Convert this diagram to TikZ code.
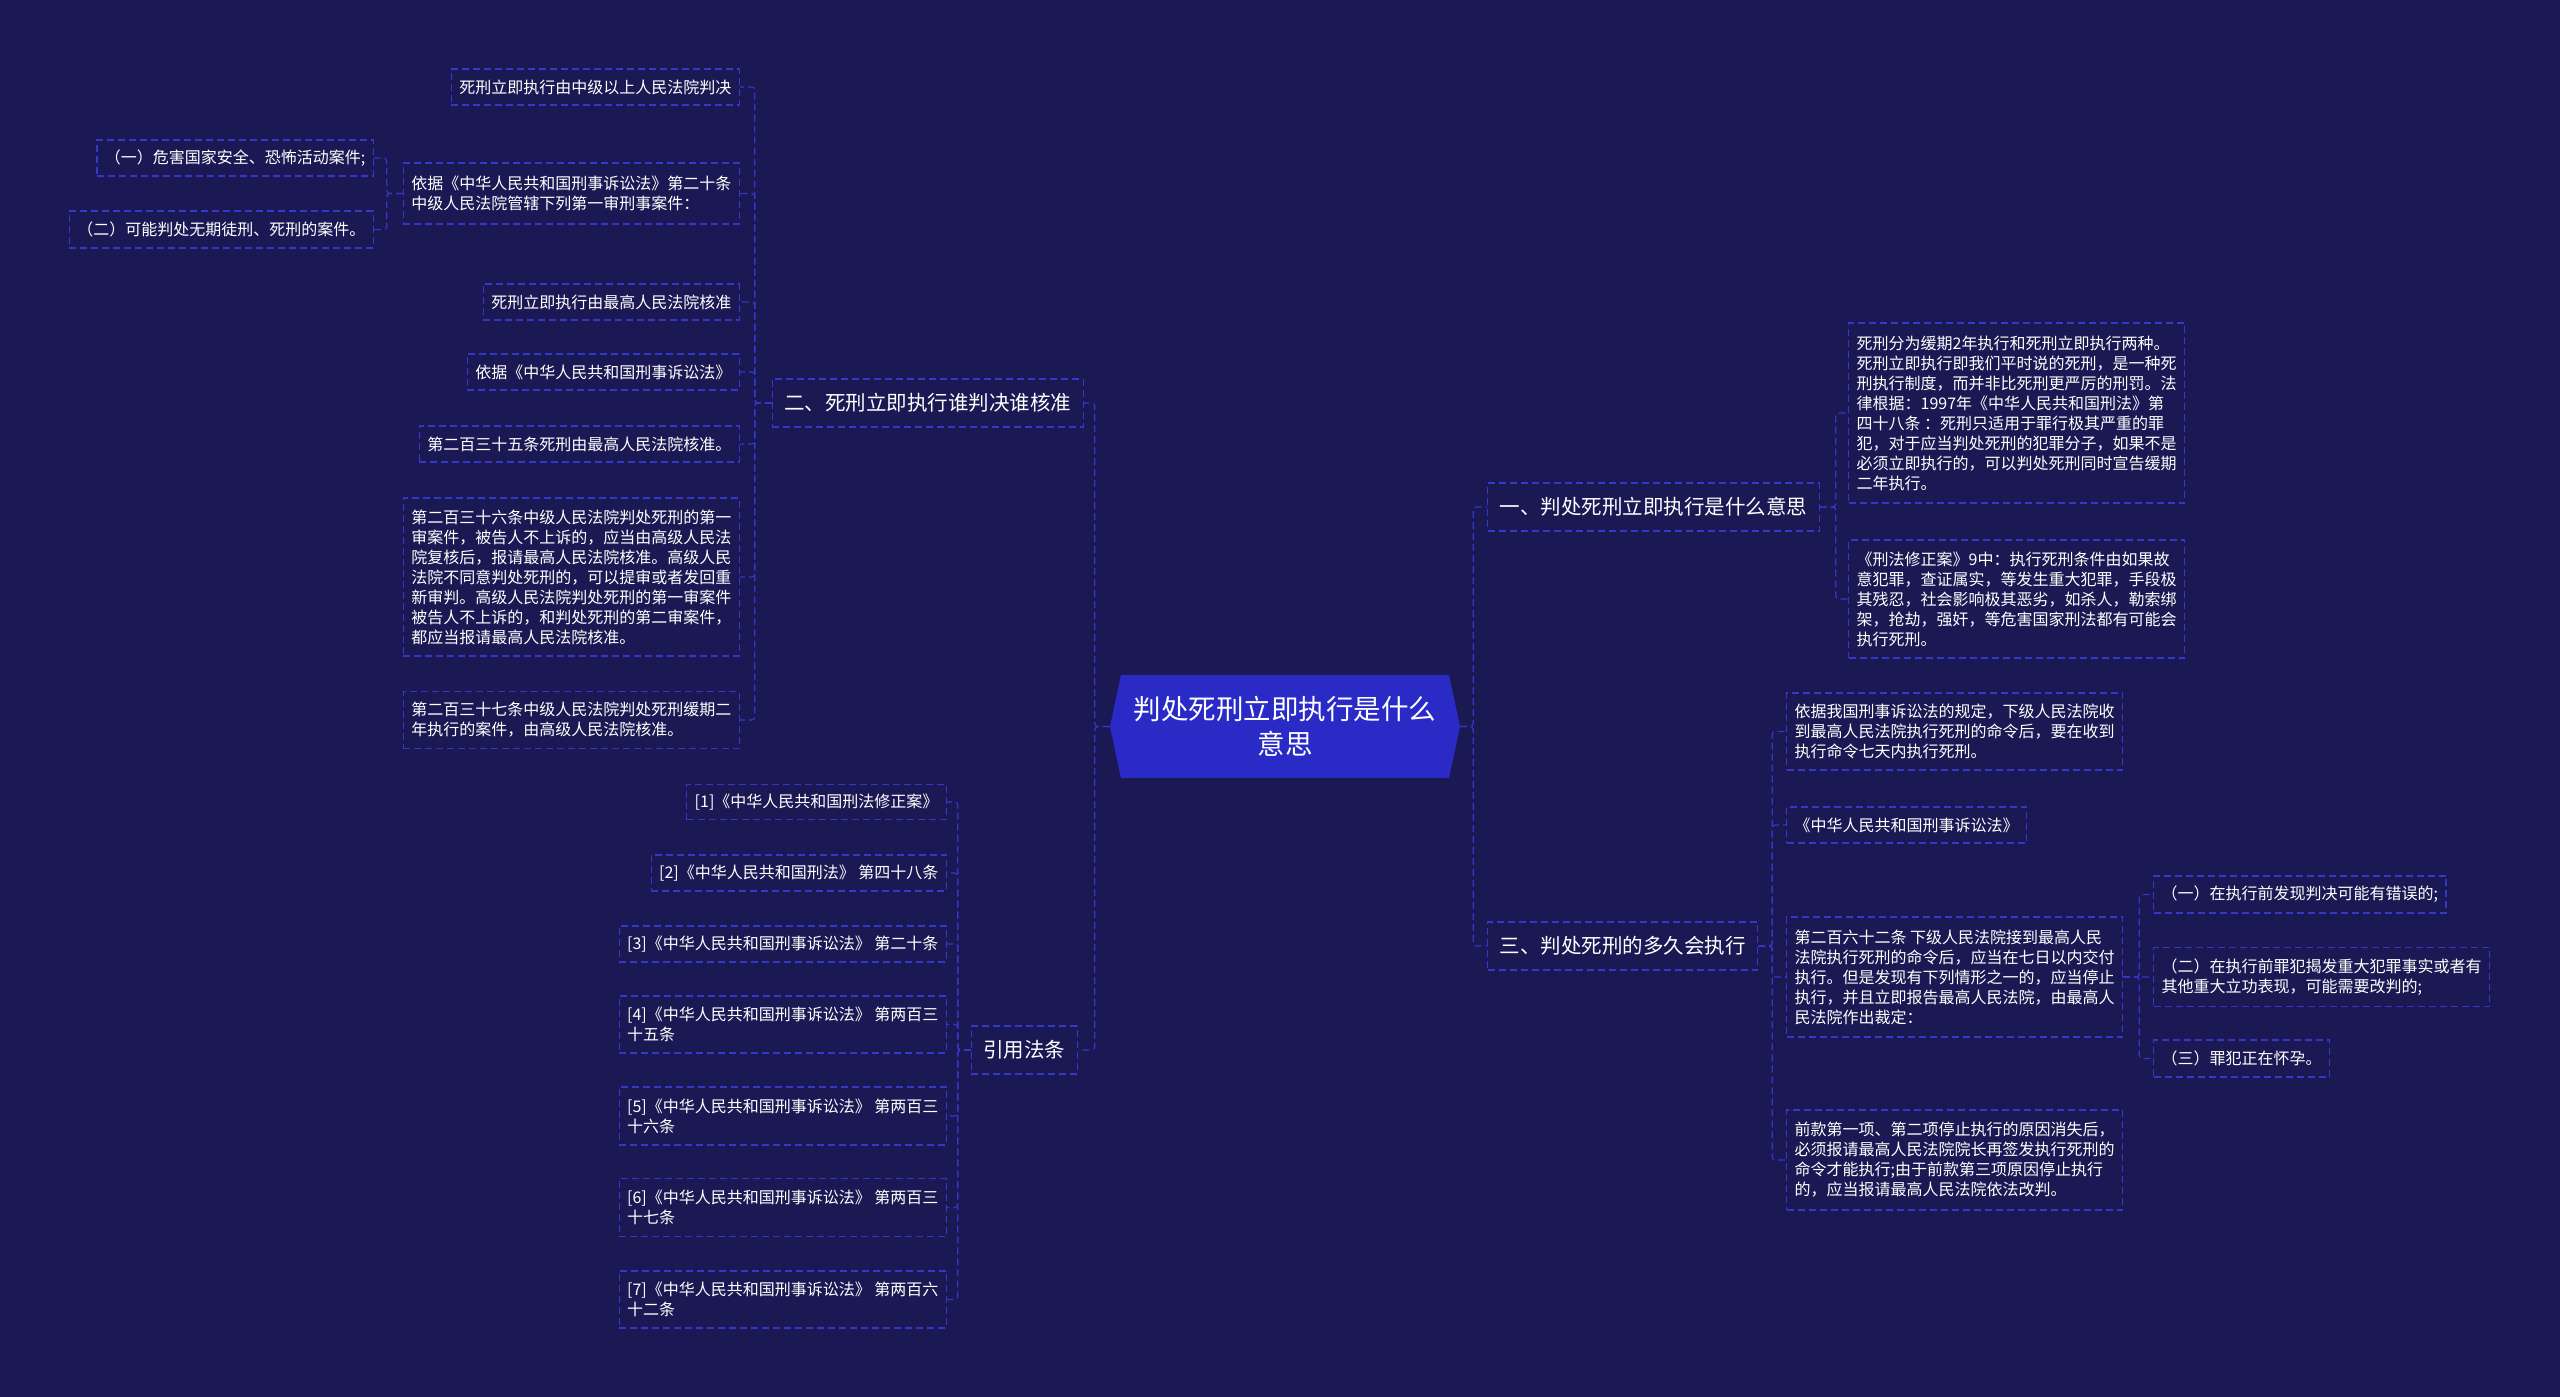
\documentclass[tikz,border=0pt]{standalone}
\usepackage{fontspec}
\setmainfont{Noto Sans CJK SC}
\definecolor{bgc}{HTML}{1A1953}
\definecolor{linec}{HTML}{3636C8}
\definecolor{rootc}{HTML}{2A2BC6}
\tikzset{
  box/.style={draw=linec, dash pattern=on 7pt off 4pt, line width=1.2pt, text=white,
    inner xsep=8pt, inner ysep=0pt, align=left, font=\fontsize{16}{20}\selectfont},
  midbox/.style={box, inner xsep=12pt, minimum height=48pt, font=\fontsize{20.5}{24}\selectfont},
  conn/.style={draw=linec, dash pattern=on 7pt off 4pt, line width=1.2pt, rounded corners=3pt}
}
\begin{document}
\begin{tikzpicture}[x=1pt,y=-1pt]
\useasboundingbox (0,0) rectangle (2560,1397);
\fill[bgc] (0,0) rectangle (2560,1397);

% root hexagon
\fill[rootc] (1110,726.5) -- (1121,675) -- (1449,675) -- (1460,726.5) -- (1449,778) -- (1121,778) -- cycle;
\node[text=white, align=center, inner sep=0pt, minimum width=350pt, minimum height=103pt,
  font=\fontsize{27.5}{35}\selectfont] (root) at (1285,726.5) {判处死刑立即执行是什么\\意思};

% ---------- right side ----------
\node[midbox, anchor=west] (b1) at (1487,507) {一、判处死刑立即执行是什么意思};
\node[box, anchor=west, minimum height=180pt] (b1a) at (1848,413) {死刑分为缓期2年执行和死刑立即执行两种。\\死刑立即执行即我们平时说的死刑，是一种死\\刑执行制度，而并非比死刑更严厉的刑罚。法\\律根据：1997年《中华人民共和国刑法》第\\四十八条 ：死刑只适用于罪行极其严重的罪\\犯，对于应当判处死刑的犯罪分子，如果不是\\必须立即执行的，可以判处死刑同时宣告缓期\\二年执行。};
\node[box, anchor=west, minimum height=118pt] (b1b) at (1848,599) {《刑法修正案》9中：执行死刑条件由如果故\\意犯罪，查证属实，等发生重大犯罪，手段极\\其残忍，社会影响极其恶劣，如杀人，勒索绑\\架，抢劫，强奸，等危害国家刑法都有可能会\\执行死刑。};

\node[midbox, anchor=west] (b3) at (1487,946) {三、判处死刑的多久会执行};
\node[box, anchor=west, minimum height=77pt] (b3a) at (1786,731.5) {依据我国刑事诉讼法的规定，下级人民法院收\\到最高人民法院执行死刑的命令后，要在收到\\执行命令七天内执行死刑。};
\node[box, anchor=west, minimum height=36pt] (b3b) at (1786,825) {《中华人民共和国刑事诉讼法》};
\node[box, anchor=west, minimum height=120pt] (b3c) at (1786,977) {第二百六十二条 下级人民法院接到最高人民\\法院执行死刑的命令后，应当在七日以内交付\\执行。但是发现有下列情形之一的，应当停止\\执行，并且立即报告最高人民法院，由最高人\\民法院作出裁定：};
\node[box, anchor=west, minimum height=100pt] (b3d) at (1786,1160) {前款第一项、第二项停止执行的原因消失后，\\必须报请最高人民法院院长再签发执行死刑的\\命令才能执行;由于前款第三项原因停止执行\\的，应当报请最高人民法院依法改判。};
\node[box, anchor=west, minimum height=37pt] (b3c1) at (2153,894.5) {（一）在执行前发现判决可能有错误的;};
\node[box, anchor=west, minimum height=59pt] (b3c2) at (2153,977) {（二）在执行前罪犯揭发重大犯罪事实或者有\\其他重大立功表现，可能需要改判的;};
\node[box, anchor=west, minimum height=37pt] (b3c3) at (2153,1058.5) {（三）罪犯正在怀孕。};

% ---------- left side ----------
\node[midbox, anchor=east] (b2) at (1084,403) {二、死刑立即执行谁判决谁核准};
\node[box, anchor=east, minimum height=36pt] (l1) at (740,87) {死刑立即执行由中级以上人民法院判决};
\node[box, anchor=east, minimum height=61pt] (l2) at (740,193.5) {依据《中华人民共和国刑事诉讼法》第二十条\\中级人民法院管辖下列第一审刑事案件：};
\node[box, anchor=east, minimum height=36pt] (l2a) at (374,158) {（一）危害国家安全、恐怖活动案件;};
\node[box, anchor=east, minimum height=37pt] (l2b) at (374,229.5) {（二）可能判处无期徒刑、死刑的案件。};
\node[box, anchor=east, minimum height=36pt] (l3) at (740,302) {死刑立即执行由最高人民法院核准};
\node[box, anchor=east, minimum height=36pt] (l4) at (740,372) {依据《中华人民共和国刑事诉讼法》};
\node[box, anchor=east, minimum height=36pt] (l5) at (740,444) {第二百三十五条死刑由最高人民法院核准。};
\node[box, anchor=east, minimum height=158pt] (l6) at (740,577) {第二百三十六条中级人民法院判处死刑的第一\\审案件，被告人不上诉的，应当由高级人民法\\院复核后，报请最高人民法院核准。高级人民\\法院不同意判处死刑的，可以提审或者发回重\\新审判。高级人民法院判处死刑的第一审案件\\被告人不上诉的，和判处死刑的第二审案件，\\都应当报请最高人民法院核准。};
\node[box, anchor=east, minimum height=57pt] (l7) at (740,720) {第二百三十七条中级人民法院判处死刑缓期二\\年执行的案件，由高级人民法院核准。};

\node[midbox, anchor=east] (b4) at (1078,1050) {引用法条};
\node[box, anchor=east, minimum height=35pt] (r1) at (947,802) {[1]《中华人民共和国刑法修正案》};
\node[box, anchor=east, minimum height=36pt] (r2) at (947,873) {[2]《中华人民共和国刑法》 第四十八条};
\node[box, anchor=east, minimum height=36pt] (r3) at (947,944) {[3]《中华人民共和国刑事诉讼法》 第二十条};
\node[box, anchor=east, minimum height=57pt] (r4) at (947,1024.5) {[4]《中华人民共和国刑事诉讼法》 第两百三\\十五条};
\node[box, anchor=east, minimum height=58pt] (r5) at (947,1116) {[5]《中华人民共和国刑事诉讼法》 第两百三\\十六条};
\node[box, anchor=east, minimum height=58pt] (r6) at (947,1207.5) {[6]《中华人民共和国刑事诉讼法》 第两百三\\十七条};
\node[box, anchor=east, minimum height=57pt] (r7) at (947,1299.5) {[7]《中华人民共和国刑事诉讼法》 第两百六\\十二条};

% ---------- connectors ----------
\foreach \c in {b1,b3} \draw[conn] (root.east) -- ++(13,0) |- (\c.west);
\foreach \c in {b2,b4} \draw[conn] (root.west) -- ++(-15,0) |- (\c.east);
\foreach \c in {b1a,b1b} \draw[conn] (b1.east) -- ++(16,0) |- (\c.west);
\foreach \c in {b3a,b3b,b3c,b3d} \draw[conn] (b3.east) -- ++(14,0) |- (\c.west);
\foreach \c in {b3c1,b3c2,b3c3} \draw[conn] (b3c.east) -- ++(16,0) |- (\c.west);
\foreach \c in {l1,l2,l3,l4,l5,l6,l7} \draw[conn] (b2.west) -- ++(-17,0) |- (\c.east);
\foreach \c in {l2a,l2b} \draw[conn] (l2.west) -- ++(-16,0) |- (\c.east);
\foreach \c in {r1,r2,r3,r4,r5,r6,r7} \draw[conn] (b4.west) -- ++(-13,0) |- (\c.east);
\end{tikzpicture}
\end{document}
